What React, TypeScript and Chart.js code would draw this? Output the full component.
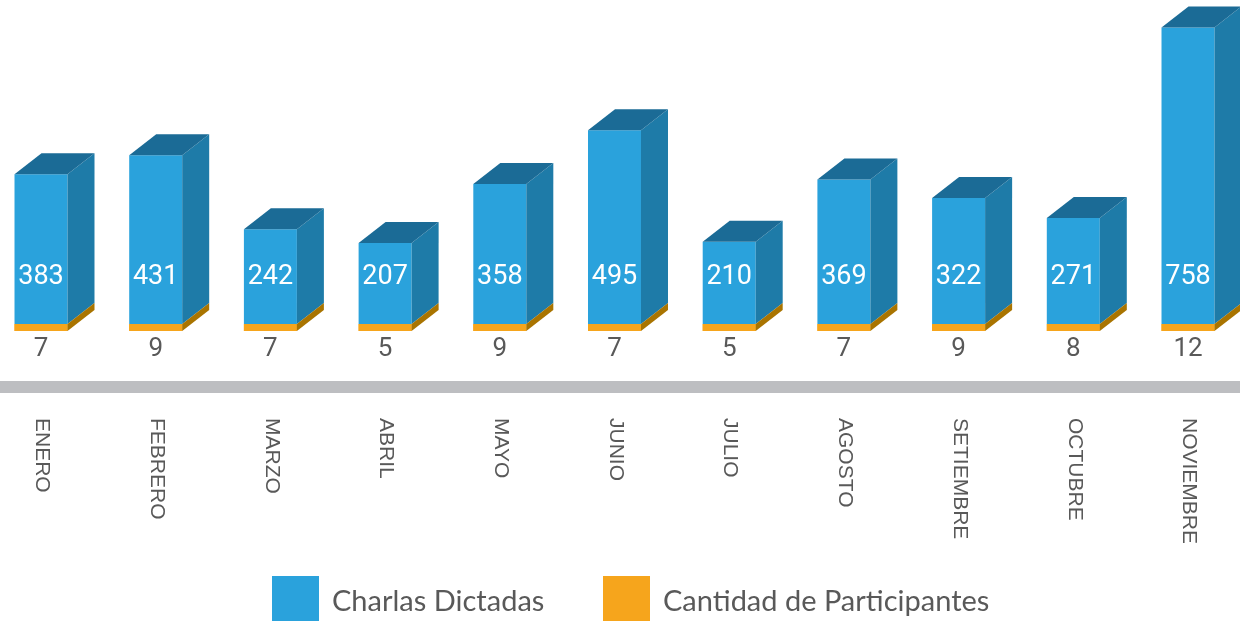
import React, { useEffect, useRef } from "react";
import { Chart, registerables } from "chart.js";

Chart.register(...registerables);

const months = ["ENERO", "FEBRERO", "MARZO", "ABRIL", "MAYO", "JUNIO", "JULIO", "AGOSTO", "SETIEMBRE", "OCTUBRE", "NOVIEMBRE"];
const charlasDictadas = [383, 431, 242, 207, 358, 495, 210, 369, 322, 271, 758];
const cantidadParticipantes = [7, 9, 7, 5, 9, 7, 5, 7, 9, 8, 12];
const legendLabels = ["Charlas Dictadas", "Cantidad de Participantes"];

const BLUE = "#2aa2dc";
const BLUE_SIDE = "#1e7ba8";
const BLUE_TOP = "#1b6b96";
const ORANGE = "#f6a51c";
const ORANGE_SIDE = "#a97400";
const TEXT = "#595959";
const DX = 27;
const DY = 21;

const bars3d = {
  id: "bars3d",
  afterDatasetsDraw(chart: any) {
    const ctx = chart.ctx;
    const orangeMeta = chart.getDatasetMeta(0);
    const blueMeta = chart.getDatasetMeta(1);
    // redraw orange fronts on top
    orangeMeta.data.forEach((el: any) => el.draw(ctx));
    ctx.save();
    blueMeta.data.forEach((b: any, i: number) => {
      const o = orangeMeta.data[i];
      const left = b.x - b.width / 2;
      const right = b.x + b.width / 2;
      const top = b.y;
      const mid = o.y;
      const bottom = o.base;
      ctx.fillStyle = BLUE_SIDE;
      ctx.beginPath();
      ctx.moveTo(right, top);
      ctx.lineTo(right + DX, top - DY);
      ctx.lineTo(right + DX, mid - DY);
      ctx.lineTo(right, mid);
      ctx.closePath();
      ctx.fill();
      ctx.fillStyle = ORANGE_SIDE;
      ctx.beginPath();
      ctx.moveTo(right, mid);
      ctx.lineTo(right + DX, mid - DY);
      ctx.lineTo(right + DX, bottom - DY);
      ctx.lineTo(right, bottom);
      ctx.closePath();
      ctx.fill();
      ctx.fillStyle = BLUE_TOP;
      ctx.beginPath();
      ctx.moveTo(left, top);
      ctx.lineTo(left + DX, top - DY);
      ctx.lineTo(right + DX, top - DY);
      ctx.lineTo(right, top);
      ctx.closePath();
      ctx.fill();
    });

    // value labels
    ctx.textAlign = "center";
    ctx.textBaseline = "alphabetic";
    blueMeta.data.forEach((b: any, i: number) => {
      ctx.fillStyle = "#ffffff";
      ctx.font = "27px Roboto";
      ctx.fillText(String(charlasDictadas[i]), b.x, 284);
      ctx.fillStyle = TEXT;
      ctx.font = "26px Roboto";
      ctx.fillText(String(cantidadParticipantes[i]), b.x, 356);
    });

    // gray axis band
    ctx.fillStyle = "#bdbec1";
    ctx.fillRect(0, 381, chart.width, 12);

    // month labels rotated clockwise
    ctx.fillStyle = TEXT;
    ctx.font = "21px 'Liberation Sans'";
    ctx.textAlign = "left";
    ctx.textBaseline = "middle";
    const xs = chart.scales.x;
    months.forEach((m, i) => {
      const x = xs.getPixelForValue(i);
      ctx.save();
      ctx.translate(x + 1, 418);
      ctx.rotate(Math.PI / 2);
      ctx.fillText(m, 0, 0);
      ctx.restore();
    });

    // legend
    const items = [
      { label: legendLabels[0], color: BLUE, x: 272 },
      { label: legendLabels[1], color: ORANGE, x: 603 },
    ];
    ctx.font = "29px Lato";
    ctx.textAlign = "left";
    ctx.textBaseline = "alphabetic";
    items.forEach((it) => {
      ctx.fillStyle = it.color;
      ctx.fillRect(it.x, 576, 47, 45);
      ctx.fillStyle = TEXT;
      ctx.fillText(it.label, it.x + 60, 611);
    });
    ctx.restore();
  },
};

export default function App() {
  const ref = useRef<HTMLCanvasElement | null>(null);
  useEffect(() => {
    if (!ref.current) return;
    const chart = new Chart(ref.current, {
      type: "bar",
      data: {
        labels: months,
        datasets: [
          {
            label: legendLabels[1],
            data: cantidadParticipantes,
            backgroundColor: ORANGE,
            minBarLength: 7,
            barPercentage: 0.462,
            categoryPercentage: 1,
            clip: false as any,
          },
          {
            label: legendLabels[0],
            data: charlasDictadas,
            backgroundColor: BLUE,
            barPercentage: 0.462,
            categoryPercentage: 1,
            clip: false as any,
          },
        ],
      },
      options: {
        animation: false,
        responsive: true,
        maintainAspectRatio: false,
        layout: { padding: { left: 41, right: 52, top: 16, bottom: 290 } },
        plugins: { legend: { display: false }, tooltip: { enabled: false } },
        scales: {
          x: { stacked: true, display: false, offset: false, grid: { offset: false } },
          y: { stacked: true, display: false, min: 0, max: 805 },
        },
      },
      plugins: [bars3d],
    });
    return () => chart.destroy();
  }, []);
  return (
    <div style={{ position: "fixed", left: 0, top: 0, width: 1240, height: 621, background: "#fff" }}>
      <canvas ref={ref} />
    </div>
  );
}
